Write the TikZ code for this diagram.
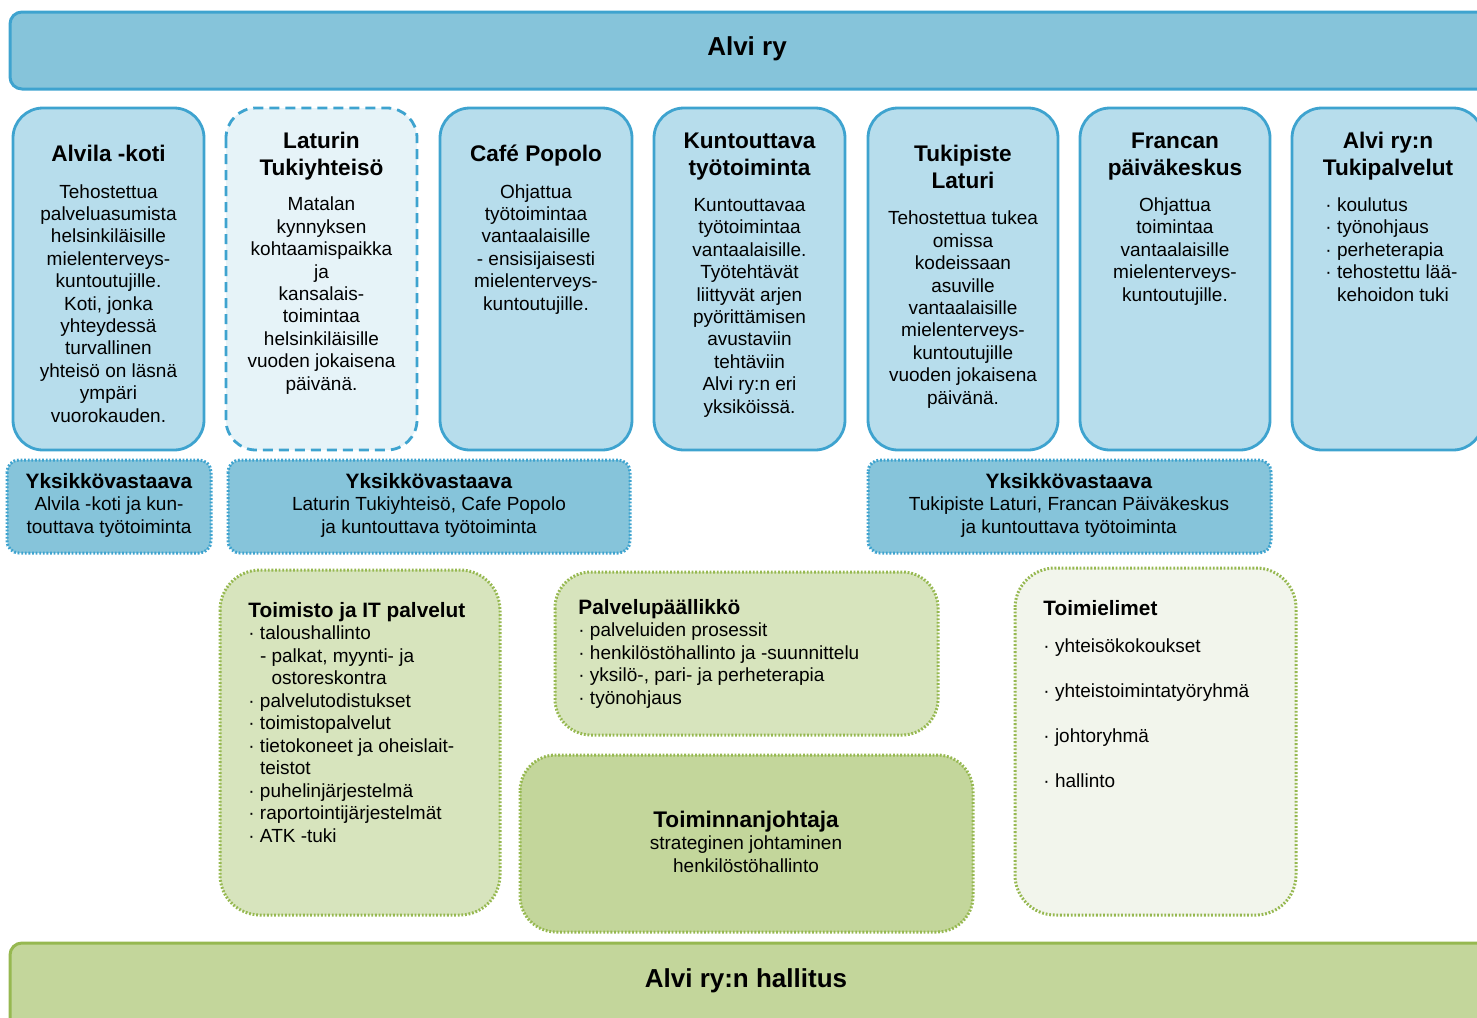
\documentclass[tikz,border=0pt]{standalone}
\usepackage{fontspec}
\setmainfont{Liberation Sans}
\usetikzlibrary{positioning}
\definecolor{alviblue}{RGB}{134,196,218}
\definecolor{alviline}{RGB}{62,163,207}
\definecolor{unitblue}{RGB}{183,221,236}
\definecolor{paleblue}{RGB}{230,243,248}
\definecolor{leafgreen}{RGB}{215,228,189}
\definecolor{boardgreen}{RGB}{195,214,155}
\definecolor{palegreen}{RGB}{242,245,236}
\definecolor{greenline}{RGB}{150,184,80}
\newcommand{\itm}{·\ }
\newcommand{\ind}{\phantom{·\ }}
\newcommand{\hdfont}{\bfseries\fontsize{11.3}{13.5}\selectfont}
\newcommand{\subfont}{\bfseries\fontsize{10.4}{11.25}\selectfont}
\tikzset{
  bar/.style={line width=1.5pt, rounded corners=6pt},
  unitbox/.style={draw=alviline, fill=unitblue, line width=1.4pt, rounded corners=15pt},
  headbox/.style={draw=alviline, fill=alviblue, line width=1.5pt, dash pattern=on 0.9pt off 0.9pt, rounded corners=6pt},
  greenbox/.style={draw=greenline, line width=1.5pt, dash pattern=on 0.9pt off 0.9pt, rounded corners=18pt},
  title/.style={font=\bfseries\fontsize{13}{15.6}\selectfont, inner sep=0pt, anchor=base},
  hd/.style={font=\hdfont, align=center, inner sep=0pt, anchor=base},
  bd/.style={font=\fontsize{9.5}{11.2}\selectfont, align=center, inner sep=0pt, anchor=base},
  lst/.style={font=\fontsize{9.5}{11.25}\selectfont, align=left, inner sep=0pt, anchor=base west}
}

\begin{document}
\begin{tikzpicture}[x=0.5pt, y=-0.5pt]
  \useasboundingbox (0,0) rectangle (1477,1017);
  \clip (0,0) rectangle (1477,1017);

  % y of a text node = baseline of its last line
  \draw[bar, draw=alviline, fill=alviblue] (10,12) rectangle (1510,89);
  \node[title] (alvi) at (747,55) {Alvi ry};

  \draw[unitbox] (13,108) rectangle (204,450);
  \draw[unitbox, fill=paleblue, dash pattern=on 5pt off 3pt] (226,108) rectangle (417,450);
  \draw[unitbox] (440,108) rectangle (632,450);
  \draw[unitbox] (654,108) rectangle (845,450);
  \draw[unitbox] (868,108) rectangle (1058,450);
  \draw[unitbox] (1080,108) rectangle (1270,450);
  \draw[unitbox] (1292,108) rectangle (1483,450);

  \node[hd] (alvilaH) at (108.5,161) {Alvila -koti};
  \node[bd] (alvilaB) at (108.5,422) {Tehostettua\\palveluasumista\\helsinkiläisille\\mielenterveys-\\kuntoutujille.\\Koti, jonka\\yhteydessä\\turvallinen\\yhteisö on läsnä\\ympäri\\vuorokauden.};

  \node[hd] (laturinH) at (321.5,175) {Laturin\\Tukiyhteisö};
  \node[bd] (laturinB) at (321.5,390) {Matalan\\kynnyksen\\kohtaamispaikka\\ja\\kansalais-\\toimintaa\\helsinkiläisille\\vuoden jokaisena\\päivänä.};

  \node[hd] (cafeH) at (536,161) {Café Popolo};
  \node[bd] (cafeB) at (536,310) {Ohjattua\\työtoimintaa\\vantaalaisille\\- ensisijaisesti\\mielenterveys-\\kuntoutujille.};

  \node[hd] (kuntH) at (749.5,175) {Kuntouttava\\työtoiminta};
  \node[bd] (kuntB) at (749.5,413) {Kuntouttavaa\\työtoimintaa\\vantaalaisille.\\Työtehtävät\\liittyvät arjen\\pyörittämisen\\avustaviin\\tehtäviin\\Alvi ry:n eri\\yksiköissä.};

  \node[hd] (tukiH) at (963,188) {Tukipiste\\Laturi};
  \node[bd] (tukiB) at (963,404) {Tehostettua tukea\\omissa\\kodeissaan\\asuville\\vantaalaisille\\mielenterveys-\\kuntoutujille\\vuoden jokaisena\\päivänä.};

  \node[hd] (francanH) at (1175,175) {Francan\\päiväkeskus};
  \node[bd] (francanB) at (1175,301) {Ohjattua\\toimintaa\\vantaalaisille\\mielenterveys-\\kuntoutujille.};

  \node[hd] (tukipH) at (1388,175) {Alvi ry:n\\Tukipalvelut};
  \node[lst] (tukipB) at (1325,301) {\itm koulutus\\\itm työnohjaus\\\itm perheterapia\\\itm tehostettu lää-\\\ind kehoidon tuki};

  \draw[headbox] (7,460) rectangle (211,553);
  \draw[headbox] (228,460) rectangle (630,553);
  \draw[headbox] (868,460) rectangle (1271,553);
  \node[bd] (vastA) at (109,533) {{\subfont Yksikkövastaava}\\Alvila -koti ja kun-\\touttava työtoiminta};
  \node[bd] (vastB) at (429,533) {{\subfont Yksikkövastaava}\\Laturin Tukiyhteisö, Cafe Popolo\\ja kuntouttava työtoiminta};
  \node[bd] (vastC) at (1069,533) {{\subfont Yksikkövastaava}\\Tukipiste Laturi, Francan Päiväkeskus\\ja kuntouttava työtoiminta};

  \draw[greenbox, fill=leafgreen, rounded corners=20pt] (220,570) rectangle (500,915);
  \draw[greenbox, fill=leafgreen] (555,572) rectangle (938,735);
  \draw[greenbox, fill=boardgreen] (520,755) rectangle (973,932);
  \draw[greenbox, fill=palegreen, rounded corners=20pt] (1015,568) rectangle (1296,915);

  \node[lst] (toimisto) at (248,842) {{\subfont Toimisto ja IT palvelut}\\\itm taloushallinto\\\ind-\ palkat, myynti- ja\\\ind\phantom{-\ }ostoreskontra\\\itm palvelutodistukset\\\itm toimistopalvelut\\\itm tietokoneet ja oheislait-\\\ind teistot\\\itm puhelinjärjestelmä\\\itm raportointijärjestelmät\\\itm ATK -tuki};

  \node[lst] (palvelu) at (578,704) {{\subfont Palvelupäällikkö}\\\itm palveluiden prosessit\\\itm henkilöstöhallinto ja -suunnittelu\\\itm yksilö-, pari- ja perheterapia\\\itm työnohjaus};

  \node[lst] (elimet) at (1043,787) {{\subfont Toimielimet}\\[7.25pt]\itm yhteisökokoukset\\[11.25pt]\itm yhteistoimintatyöryhmä\\[11.25pt]\itm johtoryhmä\\[11.25pt]\itm hallinto};

  \node[bd] (johtaja) at (746,872) {{\hdfont Toiminnanjohtaja}\\strateginen johtaminen\\henkilöstöhallinto};

  \draw[bar, draw=greenline, fill=boardgreen] (10,943) rectangle (1510,1050);
  \node[title] (hallitus) at (746,987) {Alvi ry:n hallitus};
\end{tikzpicture}
\end{document}
